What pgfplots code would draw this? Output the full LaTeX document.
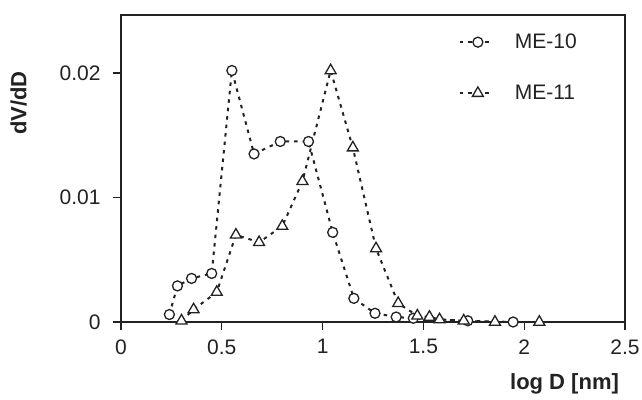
\documentclass[border=0pt]{standalone}
\usepackage{pgfplots}
\pgfplotsset{compat=1.18}
\usepackage{fontspec}
\setmainfont{Liberation Sans}
\definecolor{ink}{HTML}{222222}
\begin{document}
\begin{tikzpicture}
\useasboundingbox (-121pt,-77pt) rectangle (521pt,322pt);
\begin{axis}[
  at={(0pt,0pt)}, anchor=south west,
  scale only axis, width=504pt, height=307pt,
  xmin=0, xmax=2.5, ymin=0, ymax=0.02466,
  xtick={0,0.5,1,1.5,2,2.5},
  xticklabels={0,0.5,1,1.5,2,2.5},
  ytick={0,0.01,0.02},
  yticklabels={0,0.01,0.02},
  scaled y ticks=false,
  xtick pos=bottom, ytick pos=left,
  tick align=outside, major tick length=8pt,
  tick style={line width=1.2pt, color=ink},
  axis line style={line width=1.6pt, color=ink},
  ticklabel style={font=\fontsize{21}{24}\selectfont, color=ink},
  xticklabel style={yshift=-6pt},
  yticklabel style={xshift=-9pt},
  xlabel={\textbf{log D [nm]}},
  ylabel={\textbf{dV/dD}},
  label style={font=\fontsize{22}{25}\selectfont, color=ink},
  xlabel style={at={(axis description cs:0.88,-0.2)}, anchor=center},
  ylabel style={at={(axis description cs:-0.203,0.713)}, anchor=center, rotate=0},
  legend style={at={(axis description cs:0.67,0.945)}, anchor=north west,
    draw=none, fill=none, font=\fontsize{21}{24}\selectfont, text=ink,
    row sep=31pt, column sep=19pt, inner sep=0pt},
  legend cell align=left,
  legend image code/.code={%
    \draw[mark repeat=2,mark phase=2] plot coordinates {(0pt,0pt) (18pt,0pt) (33pt,0pt)};},
]
\addplot[line width=2pt, color=ink, dash pattern=on 3.5pt off 5pt,
    mark=*, mark size=5pt, mark options={solid, fill=white, draw=ink, line width=1.3pt}] coordinates {
(0.24,0.0006) (0.28,0.0029) (0.35,0.0035) (0.45,0.0039) (0.55,0.0202)
(0.66,0.0135) (0.79,0.0145) (0.93,0.0145) (1.05,0.0072) (1.155,0.0019)
(1.26,0.0007) (1.365,0.0004) (1.45,0.0003) (1.72,0.0001) (1.945,0.0)
};
\addlegendentry{ME-10}
\addplot[line width=2pt, color=ink, dash pattern=on 3.5pt off 5pt,
    mark=triangle*, mark size=6.3pt, mark options={solid, fill=white, draw=ink, line width=1.3pt}] coordinates {
(0.30,0.0001) (0.36,0.0010) (0.475,0.0024) (0.57,0.0070) (0.685,0.0064)
(0.80,0.0077) (0.90,0.0113) (1.04,0.0202) (1.15,0.0140) (1.265,0.0059)
(1.375,0.0015) (1.47,0.0005) (1.53,0.0004) (1.58,0.0002) (1.70,0.0001)
(1.855,0.0) (2.075,0.0)
};
\addlegendentry{ME-11}
\end{axis}
\end{tikzpicture}
\end{document}
